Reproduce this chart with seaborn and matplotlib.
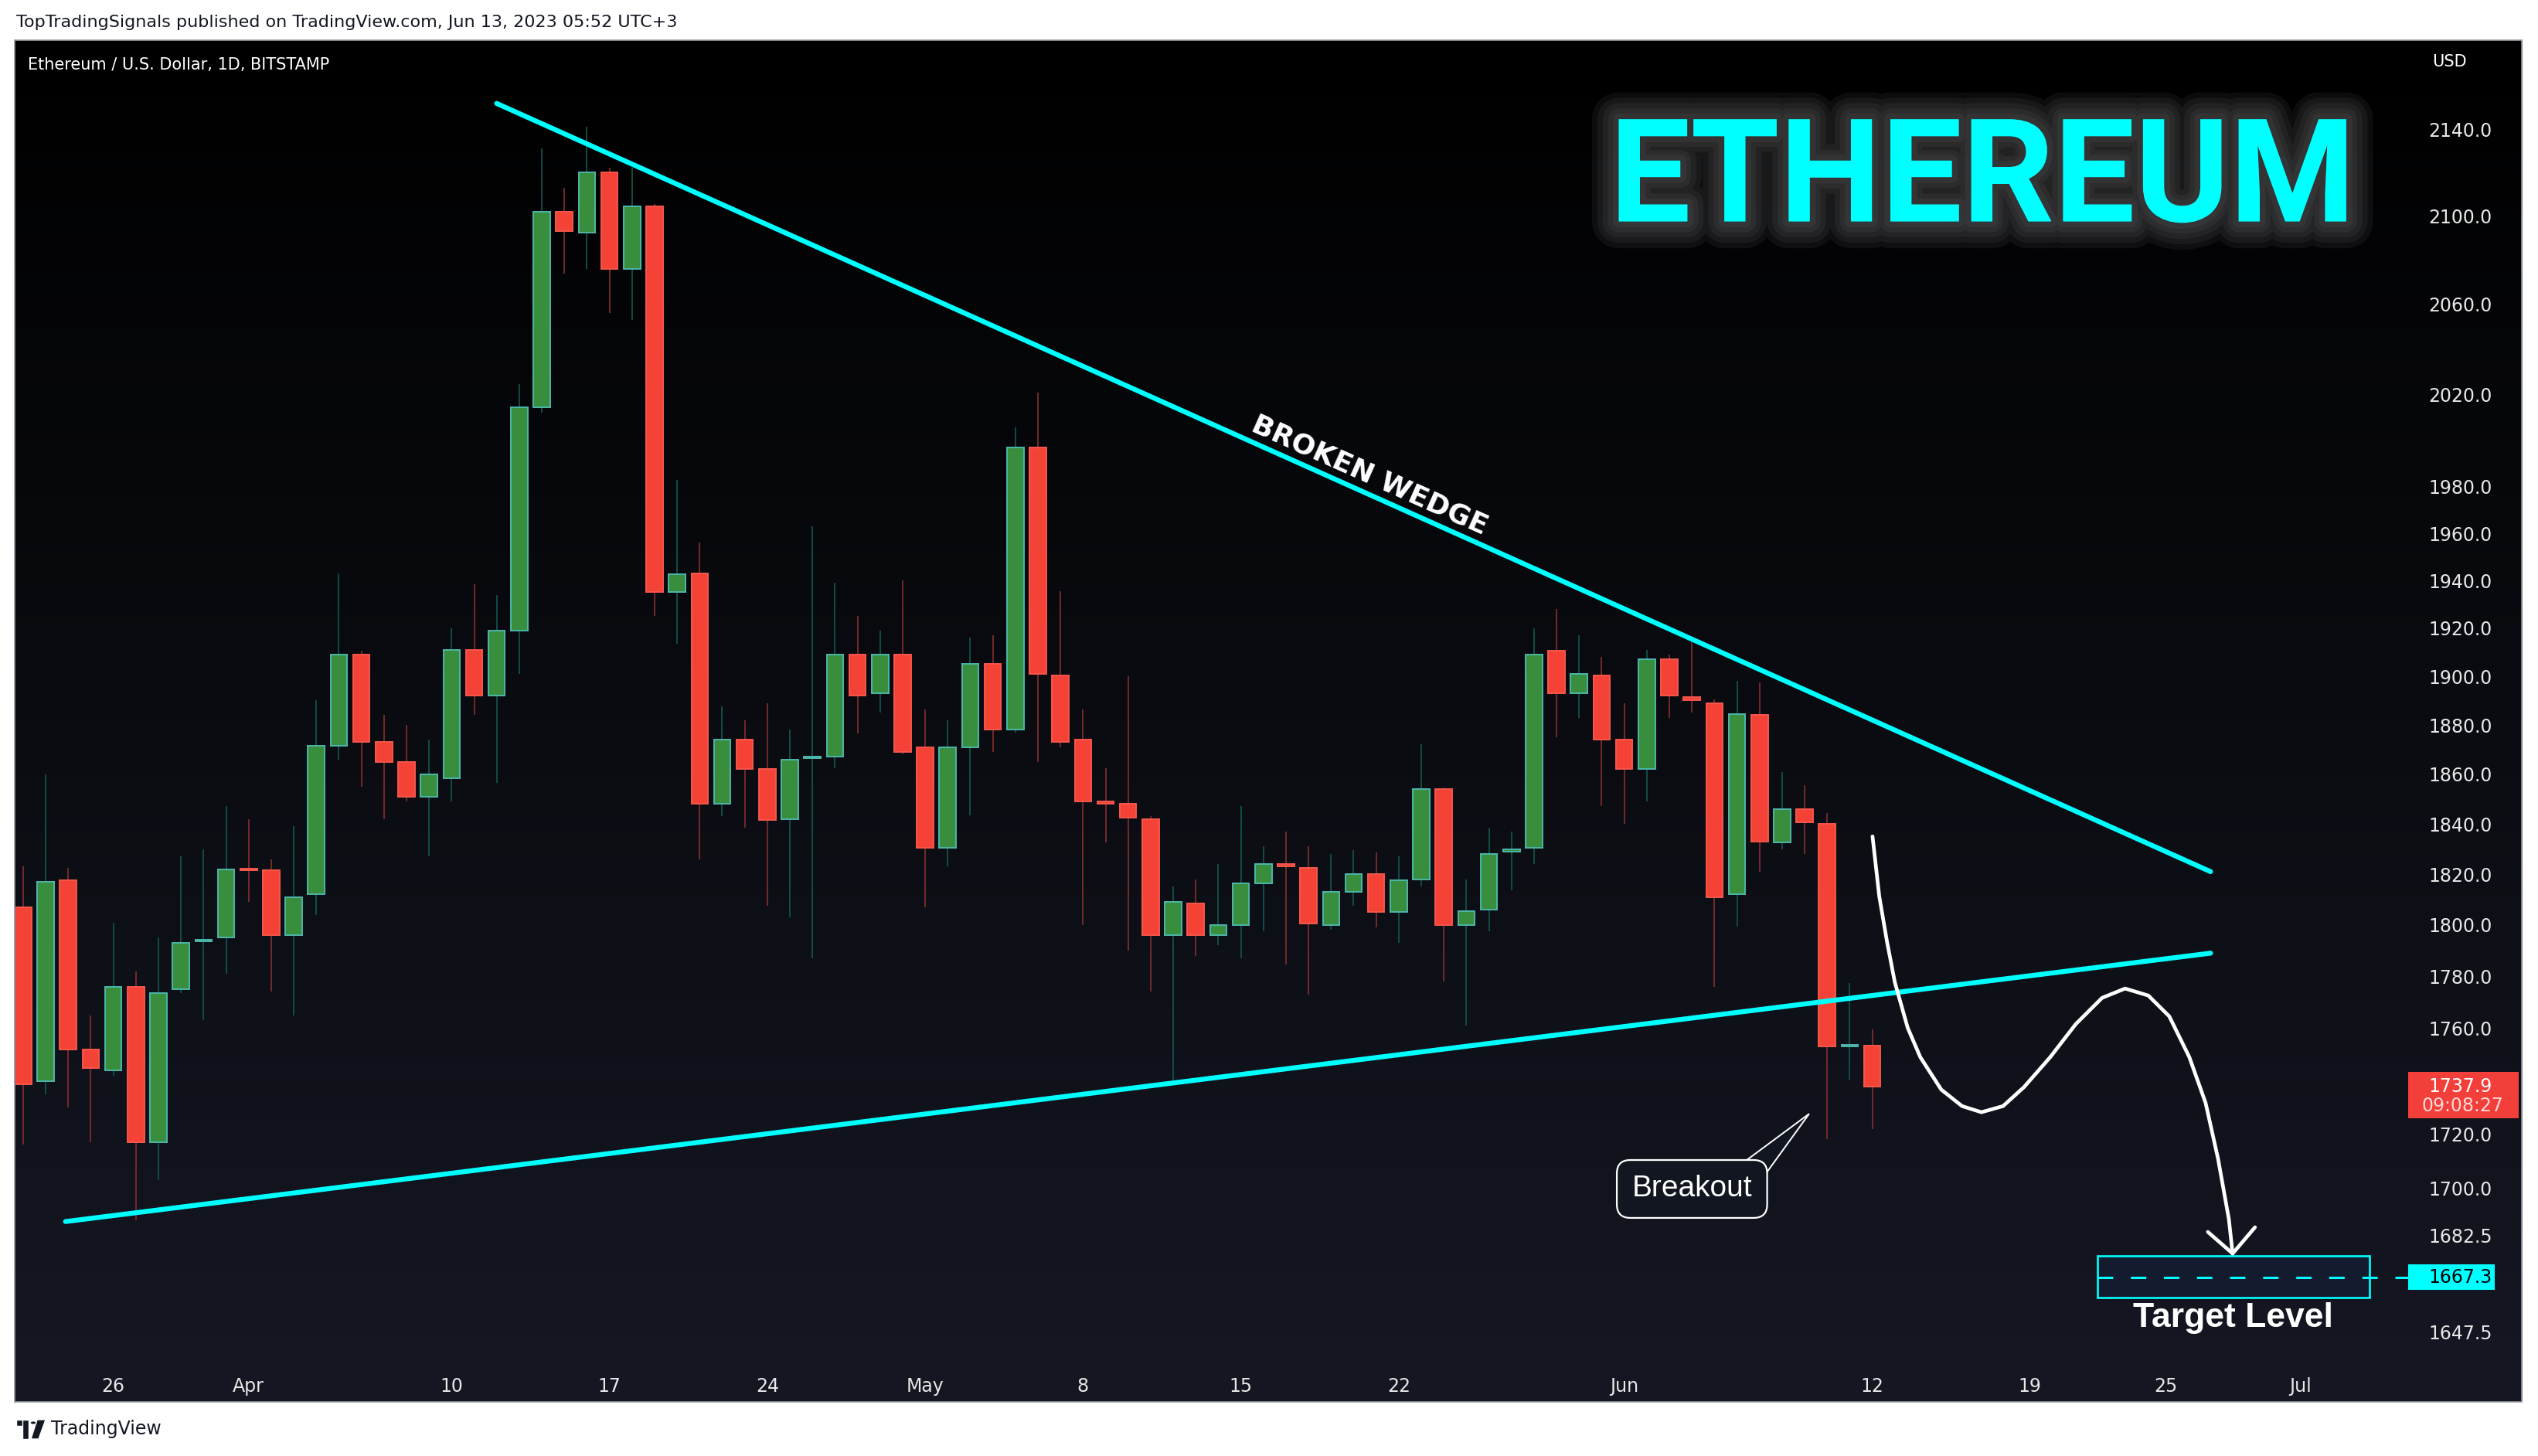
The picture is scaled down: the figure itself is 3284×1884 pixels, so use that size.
# ETH/USD daily candles with the broken wedge drawing, TradingView style
import numpy as np
import pandas as pd
import matplotlib
matplotlib.use('Agg')
import matplotlib.pyplot as plt
import matplotlib.patheffects as pe
import matplotlib.transforms as mtransforms
from matplotlib.patches import Rectangle, Polygon
from matplotlib.ticker import NullLocator
import seaborn as sns


# candle data (BITSTAMP, 1D)
dates = pd.date_range('2023-03-22', '2023-06-12', freq='D')
opens = [1807, 1740, 1817.5, 1752, 1744, 1776, 1717, 1775, 1793.5, 1795,
         1822, 1821.5, 1796, 1812, 1871.5, 1909, 1873, 1865, 1851, 1858.5,
         1911, 1892, 1919, 2014.5, 2102, 2092.5, 2120, 2076, 2104.5, 1935,
         1943, 1848, 1874, 1862, 1842, 1866.5, 1867, 1909, 1893, 1909,
         1871, 1830.5, 1871, 1905, 1878, 1997, 1900.5, 1874, 1849, 1848,
         1842, 1796, 1808.5, 1796, 1800, 1816.5, 1824, 1822.5, 1800, 1813,
         1820, 1805, 1818, 1854, 1800, 1806, 1829, 1830.5, 1910.5, 1893,
         1900.5, 1874, 1862, 1907, 1891.5, 1889, 1812, 1884, 1832.5, 1846,
         1840, 1753, 1753.5]
highs = [1823, 1860, 1822.5, 1765, 1801, 1782, 1795, 1827, 1830, 1847,
         1842, 1826, 1839, 1890, 1943, 1910.5, 1884, 1880, 1874, 1920,
         1938.5, 1934, 2024.5, 2131, 2113, 2141, 2122, 2122, 2105.5, 1983,
         1956, 1887.5, 1882, 1889, 1878, 1963, 1939, 1925, 1919, 1940,
         1886.5, 1882, 1916, 1917, 2005.5, 2021, 1935.5, 1886.5, 1862.5, 1900,
         1843, 1815, 1818, 1824, 1847, 1831, 1837, 1831, 1828, 1829.5,
         1828.5, 1827, 1872, 1854.5, 1818, 1838.5, 1837, 1920, 1928, 1917,
         1908, 1889, 1911, 1909, 1914.5, 1890.5, 1898, 1897.5, 1861, 1855.5,
         1844.5, 1777.5, 1759.5]
lows = [1716, 1735, 1730, 1717, 1742, 1688, 1703, 1773.5, 1763, 1781,
        1809, 1774, 1765, 1804, 1866, 1855, 1842, 1849, 1827, 1849,
        1884, 1856.5, 1901, 2012, 2074, 2076, 2056, 2053, 1925, 1913.5,
        1826, 1843, 1838.5, 1807.5, 1803, 1787, 1862.5, 1876.5, 1885, 1868,
        1807, 1823, 1843.5, 1869, 1877, 1865, 1871, 1800, 1832.5, 1790,
        1774, 1739, 1788, 1792, 1787, 1797.5, 1784.5, 1773, 1798, 1807.5,
        1799, 1793, 1815, 1778, 1761, 1797.5, 1813.5, 1824, 1875, 1883,
        1847, 1840, 1849, 1883, 1885, 1776, 1799.5, 1821, 1830, 1828,
        1718, 1740.5, 1722]
closes = [1738.6, 1817, 1752, 1745, 1776, 1717, 1773.5, 1793, 1793.6, 1822,
          1821.5, 1796, 1811, 1871.5, 1909, 1873, 1865, 1851, 1860, 1911,
          1892, 1919, 2014.5, 2102, 2093, 2120, 2076, 2104.5, 1935, 1942.5,
          1848, 1874, 1862, 1841.5, 1866, 1866.6, 1909, 1892, 1909, 1869,
          1830.5, 1871, 1905, 1878, 1997, 1901, 1873, 1849, 1848, 1842.5,
          1796, 1809, 1796, 1800, 1816.5, 1824, 1823, 1800.5, 1813, 1820,
          1805, 1817.5, 1854, 1800, 1805.5, 1828, 1830, 1909, 1893, 1901,
          1874, 1862, 1907, 1892, 1890, 1811, 1884.5, 1833, 1846, 1840.5,
          1753, 1753.5, 1737.9]

tick_dates = ['2023-03-26', '2023-04-01', '2023-04-10', '2023-04-17', '2023-04-24',
              '2023-05-01', '2023-05-08', '2023-05-15', '2023-05-22', '2023-06-01',
              '2023-06-12', '2023-06-19', '2023-06-25', '2023-07-01']
tick_labels = ['26', 'Apr', '10', '17', '24', 'May', '8', '15', '22', 'Jun',
               '12', '19', '25', 'Jul']
price_ticks = [2140, 2100, 2060, 2020, 1980, 1960, 1940, 1920, 1900, 1880, 1860,
               1840, 1820, 1800, 1780, 1760, 1720, 1700, 1682.5, 1647.5]

# drawings: x in days after Mar 22, y in USD
upper_x = [21.0, 97.0]
upper_y = [2152, 1821]
lower_x = [1.88, 97.0]
lower_y = [1687.6, 1789]
path_x = [82.01, 82.31, 82.65, 83.0, 83.57, 84.13, 85.06, 85.98, 86.84, 87.8,
          88.72, 89.89, 91.02, 92.19, 93.21, 94.24, 95.17, 96.06, 96.78, 97.33,
          97.81, 97.98]
path_y = [1835.0, 1811.2, 1793.6, 1777.7, 1760.2, 1749.0, 1736.7, 1730.5, 1728.2, 1730.5,
          1737.6, 1749.0, 1761.6, 1771.7, 1775.3, 1772.6, 1764.6, 1749.0, 1731.7, 1710.9,
          1688.6, 1675.9]
arrow_x = [96.88, 97.98, 98.97]
arrow_y = [1683.8, 1675.9, 1685.5]
target_price = 1667.3
target_box = [91.98, 104.04, 1660.0, 1675.0]
breakout_box = [70.56, 77.45, 1688.0, 1711.2]
breakout_tip = [79.2, 1727.6]
last_price = 1737.9
countdown = '09:08:27'

# colours
CYAN = '#00ffff'
BODY_UP, EDGE_UP, WICK_UP = '#388e3c', '#4db6ac', '#11524c'
BODY_DN, EDGE_DN, WICK_DN = '#f44336', '#f5574c', '#7e2c2c'
TXT = '#e8e8e8'

sns.set_style('dark', {'axes.facecolor': 'none', 'figure.facecolor': 'white'})
plt.rcParams['font.family'] = ['DejaVu Sans']

W, H = 3284, 1884
fig = plt.figure(figsize=(W / 100, H / 100), dpi=100)


def fx(px):
    return px / W


def fy(py):
    return 1 - py / H


# dark panel with vertical gradient
bg = fig.add_axes([fx(19), fy(1814), fx(3263) - fx(19), fy(52) - fy(1814)])
g = np.linspace(0, 1, 256)[:, None, None]
top_c = np.array([0.0, 0.0, 0.0])
bot_c = np.array([0.082, 0.094, 0.137])
bg.imshow(top_c + g * (bot_c - top_c), aspect='auto', extent=[0, 1, 0, 1], origin='upper')
bg.set_xticks([])
bg.set_yticks([])
for s in bg.spines.values():
    s.set_color('#9598a1')
    s.set_linewidth(1.2)

ax = fig.add_axes([fx(20), fy(1760), fx(3120) - fx(20), fy(52) - fy(1760)])
ax.set_facecolor('none')
for s in ax.spines.values():
    s.set_visible(False)
ax.grid(False)
ax.set_yscale('log')

x = (dates - dates[0]).days.values.astype(float)
o = np.array(opens)
h = np.array(highs)
l = np.array(lows)
c = np.array(closes)
up = c >= o
body_bot = np.minimum(o, c)
body_h = np.maximum(np.abs(c - o), 0.7)

ax.vlines(x[up], l[up], h[up], color=WICK_UP, lw=1.3, zorder=2)
ax.vlines(x[~up], l[~up], h[~up], color=WICK_DN, lw=1.3, zorder=2)
ax.bar(x[up], body_h[up], bottom=body_bot[up], width=0.74, color=BODY_UP,
       edgecolor=EDGE_UP, linewidth=1.4, zorder=3)
ax.bar(x[~up], body_h[~up], bottom=body_bot[~up], width=0.74, color=BODY_DN,
       edgecolor=EDGE_DN, linewidth=1.4, zorder=3)

# wedge lines and forecast path
sns.lineplot(x=upper_x, y=upper_y, ax=ax, color=CYAN, lw=4.6, sort=False, estimator=None, zorder=4)
sns.lineplot(x=lower_x, y=lower_y, ax=ax, color=CYAN, lw=4.6, sort=False, estimator=None, zorder=4)
sns.lineplot(x=path_x, y=path_y, ax=ax, color='white', lw=3.4, sort=False, estimator=None, zorder=5)
ax.plot(arrow_x, arrow_y, color='white', lw=3.4, zorder=5, solid_joinstyle='miter')
for ln in ax.lines:
    ln.set_solid_capstyle('round')
    ln.set_solid_joinstyle('round')

ax.set_xlim(-0.34, 105.9)
ax.set_ylim(1637.5, 2181.8)

# axes ticks
tick_pos = [(pd.Timestamp(d) - dates[0]).days for d in tick_dates]
ax.set_xticks(tick_pos)
ax.set_xticklabels(tick_labels)
ax.yaxis.tick_right()
ax.set_yticks(price_ticks)
ax.set_yticklabels([f'{v:.1f}' for v in price_ticks])
ax.yaxis.set_minor_locator(NullLocator())
ax.tick_params(axis='both', length=0, labelsize=17, colors=TXT)
ax.tick_params(axis='x', pad=16)
ax.tick_params(axis='y', pad=16)
ax.set_xlabel('')
ax.set_ylabel('')

# target level box
tb = target_box
ax.add_patch(Rectangle((tb[0], tb[2]), tb[1] - tb[0], tb[3] - tb[2], fc='#131b2e',
                       ec=CYAN, lw=1.9, zorder=4))
ax.hlines(target_price, tb[0], 105.9, colors=CYAN, lw=2.2,
          linestyles=(0, (6.5, 7.5)), zorder=5)
ax.text((tb[0] + tb[1]) / 2, 1652.5, 'Target Level', ha='center', va='center',
        fontsize=32, fontweight='bold', color='white',
        family=['Liberation Sans', 'DejaVu Sans'], zorder=6)

# breakout callout
bb = breakout_box
ax.add_patch(Polygon([(76.3, 1709.5), tuple(breakout_tip), (77.3, 1705.5)], closed=True,
                     fc='#121621', ec='white', lw=1.4, zorder=6))
ax.text((bb[0] + bb[1]) / 2, 1699.6, 'Breakout', ha='center', va='center', fontsize=28,
        color='white', family=['Liberation Sans', 'DejaVu Sans'], zorder=7,
        bbox=dict(boxstyle='round,pad=0.5,rounding_size=0.45', fc='#121621',
                  ec='white', lw=1.6))

# "BROKEN WEDGE" along the upper line
p0 = ax.transData.transform((upper_x[0], upper_y[0]))
p1 = ax.transData.transform((upper_x[1], upper_y[1]))
ang = np.degrees(np.arctan2(p1[1] - p0[1], p1[0] - p0[0]))
tx = 59.4
ty = np.exp(np.interp(tx, upper_x, np.log(upper_y)))
nrm = np.radians(ang + 90)
off = mtransforms.offset_copy(ax.transData, fig=fig, x=13 * np.cos(nrm), y=13 * np.sin(nrm),
                              units='dots')
ax.text(tx, ty, 'BROKEN WEDGE', transform=off, rotation=ang, rotation_mode='anchor',
        ha='center', va='baseline', fontsize=26, fontweight='bold', color='white', zorder=6)

# big glowing title
glow = [pe.Stroke(linewidth=w, foreground='#8c8c8c', alpha=0.09) for w in (50, 40, 30, 20, 11)]
ax.text(86.9, 2097.5, 'ETHEREUM', ha='center', va='baseline', fontsize=134, fontweight='bold',
        color=CYAN, family=['Roboto', 'DejaVu Sans'],
        path_effects=glow + [pe.Normal()], zorder=8)

# price labels on the right scale
blend = mtransforms.blended_transform_factory(ax.transAxes, ax.transData)
ax.add_patch(Rectangle((0.9987, 1725.9), 0.0461, 17.5, transform=blend, fc='#f23f3a',
                       ec='none', clip_on=False, zorder=10))
ax.text(1.0071, last_price, f'{last_price:.1f}', transform=blend, ha='left', va='center',
        fontsize=17, color='white', clip_on=False, zorder=11)
ax.text(1.0045, 1730.5, countdown, transform=blend, ha='left', va='center',
        fontsize=17, color='#ffd9d6', clip_on=False, zorder=11)
ax.add_patch(Rectangle((0.9987, 1662.7), 0.0361, 9.3, transform=blend, fc=CYAN,
                       ec='none', clip_on=False, zorder=10))
ax.text(1.0071, target_price, f'{target_price:.1f}', transform=blend, ha='left', va='center',
        fontsize=17, color='black', clip_on=False, zorder=11)

# header / footer texts
fig.text(fx(21), fy(29), 'TopTradingSignals published on TradingView.com, Jun 13, 2023 05:52 UTC+3',
         ha='left', va='center', fontsize=16, color='#131722')
fig.text(fx(36), fy(84), 'Ethereum / U.S. Dollar, 1D, BITSTAMP', ha='left', va='center',
         fontsize=15, color='white')
fig.text(fx(3169), fy(80), 'USD', ha='center', va='center', fontsize=15, color='white')
fig.text(fx(66), fy(1849), 'TradingView', ha='left', va='center', fontsize=17, color='#131722')

# small TradingView logo
logo = [
    Rectangle((fx(21), fy(1845)), fx(16), 8 / H),
    Rectangle((fx(29), fy(1862)), fx(8), 25 / H),
    Polygon([(fx(48), fy(1837)), (fx(59), fy(1837)), (fx(50), fy(1862)), (fx(40), fy(1862))]),
]
for p in logo:
    p.set_facecolor('#131722')
    p.set_transform(fig.transFigure)
    fig.patches.append(p)
fig.patches.append(plt.Circle((fx(43), fy(1841)), 4 / W, transform=fig.transFigure,
                              fc='#131722'))

fig.savefig('out.png', dpi=100, facecolor='white')
